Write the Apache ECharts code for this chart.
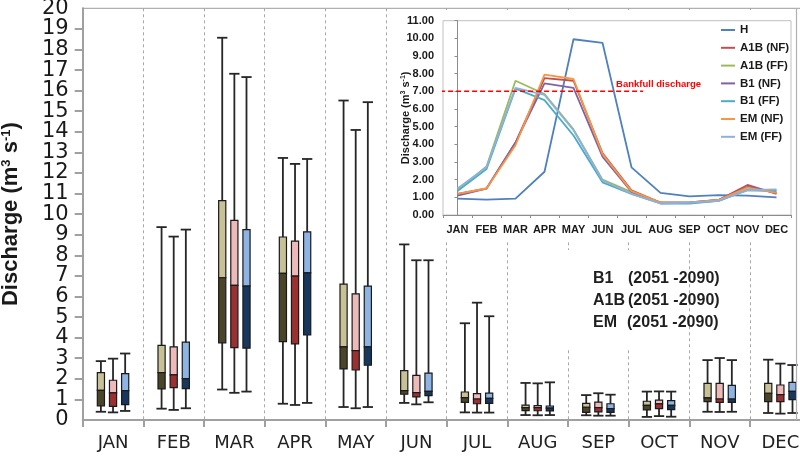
<!DOCTYPE html>
<html>
<head>
<meta charset="utf-8">
<script src="https://cdn.jsdelivr.net/npm/echarts@6/dist/echarts.min.js"></script>
<style>html,body{margin:0;padding:0;background:#fff;}#c{width:800px;height:457px;}</style>
</head>
<body>
<div id="c"></div>
<script>
// ---------- DATA ----------
const months = ['JAN','FEB','MAR','APR','MAY','JUN','JUL','AUG','SEP','OCT','NOV','DEC'];
const yTicks = [0,20,1]; // min, max, interval (main axis)

// box stats per month: [min, q1, median, q3, max]
const b1Stats = [
  [0.40,0.69,1.44,2.30,2.86],[0.55,1.51,2.30,3.63,9.37],[1.48,3.75,6.91,10.66,18.57],
  [0.79,3.81,7.12,8.89,12.73],[0.63,2.48,3.55,6.60,15.52],[0.83,1.25,1.43,2.40,8.53],
  [0.37,0.86,1.09,1.36,4.70],[0.24,0.46,0.60,0.72,1.80],[0.23,0.37,0.62,0.81,1.21],
  [0.15,0.49,0.71,0.91,1.38],[0.40,0.89,1.07,1.78,2.91],[0.34,0.89,1.30,1.78,2.93]
];
const a1bStats = [
  [0.37,0.66,1.32,1.93,2.98],[0.49,1.57,2.19,3.55,8.91],[1.32,3.52,6.54,9.70,16.82],
  [0.73,3.70,6.99,8.69,12.44],[0.57,2.43,3.37,6.13,14.09],[0.76,1.12,1.33,2.17,7.76],
  [0.36,0.79,1.02,1.28,5.70],[0.23,0.45,0.60,0.70,1.78],[0.21,0.39,0.60,0.87,1.30],
  [0.19,0.55,0.78,0.97,1.39],[0.39,0.86,1.02,1.78,3.01],[0.31,0.89,1.23,1.70,2.74]
];
const emStats = [
  [0.44,0.75,1.43,2.25,3.23],[0.57,1.52,2.01,3.78,9.25],[1.38,3.49,6.50,9.25,16.66],
  [0.83,4.13,7.15,9.14,12.68],[0.63,2.66,3.55,6.50,15.44],[0.86,1.18,1.39,2.28,7.76],
  [0.36,0.81,1.05,1.31,5.04],[0.24,0.44,0.58,0.68,1.83],[0.21,0.37,0.55,0.79,1.23],
  [0.16,0.50,0.71,0.94,1.38],[0.40,0.86,1.02,1.68,2.91],[0.34,0.99,1.39,1.83,2.67]
];

// inset mean monthly discharge
const insetNames = ['H','A1B (NF)','A1B (FF)','B1 (NF)','B1 (FF)','EM (NF)','EM (FF)'];
const H      = [0.93,0.87,0.93,2.45,9.95,9.75,2.70,1.25,1.05,1.12,1.10,1.00];
const A1B_NF = [1.20,1.50,4.10,7.75,7.60,3.50,1.40,0.70,0.70,0.85,1.70,1.20];
const A1B_FF = [1.40,2.75,7.60,6.85,4.85,2.00,1.30,0.70,0.70,0.80,1.45,1.40];
const B1_NF  = [1.10,1.50,4.10,7.45,7.20,3.30,1.30,0.70,0.72,0.85,1.60,1.25];
const B1_FF  = [1.35,2.60,7.15,6.50,4.50,1.85,1.20,0.65,0.65,0.80,1.40,1.35];
const EM_NF  = [1.20,1.50,3.95,7.95,7.70,3.45,1.35,0.70,0.72,0.85,1.55,1.25];
const EM_FF  = [1.50,2.70,7.20,6.80,4.80,1.95,1.20,0.65,0.70,0.80,1.40,1.45];
const bankfull = 7;
const bankfullSpan = [-0.6, 6.4]; // category-index extent of the bankfull line
const periodLabels = ['B1','A1B','EM'];
const periodText = '(2051 -2090)';

// ---------- CHART ----------
const chart = echarts.init(document.getElementById('c'), null, {renderer:'canvas'});
const insetSeriesData = [H, A1B_NF, A1B_FF, B1_NF, B1_FF, EM_NF, EM_FF];
const insetColors = ['#4F81BD','#C0504D','#9BBB59','#8064A2','#4BACC6','#F79646','#8EB0DC'];

function boxRender(offsetFrac, upper, lower) {
  return function(params, api) {
    const i = api.value(0);
    const bw = api.size([1, 0])[0];
    const cx = api.coord([i, 0])[0] + offsetFrac * bw;
    const y = k => api.coord([i, api.value(k)])[1];
    const yMin = y(1), yQ1 = y(2), yMed = y(3), yQ3 = y(4), yMax = y(5);
    const w = bw * 0.118, cw = bw * 0.17;
    const ws = {stroke:'#262626', lineWidth:1.8};
    return {type:'group', children:[
      {type:'line', shape:{x1:cx, y1:yMax, x2:cx, y2:yMin}, style:ws},
      {type:'line', shape:{x1:cx-cw/2, y1:yMax, x2:cx+cw/2, y2:yMax}, style:ws},
      {type:'line', shape:{x1:cx-cw/2, y1:yMin, x2:cx+cw/2, y2:yMin}, style:ws},
      {type:'rect', shape:{x:cx-w/2, y:yQ3, width:w, height:yMed-yQ3}, style:{fill:upper, stroke:'#1a1a1a', lineWidth:1.2}},
      {type:'rect', shape:{x:cx-w/2, y:yMed, width:w, height:yQ1-yMed}, style:{fill:lower, stroke:'#1a1a1a', lineWidth:1.2}}
    ]};
  };
}
function boxSeries(stats, offsetFrac, upper, lower, name) {
  return {
    type:'custom', name:name, xAxisIndex:0, yAxisIndex:0, z:2, clip:false,
    renderItem: boxRender(offsetFrac, upper, lower),
    encode:{x:0, y:[1,2,3,4,5]},
    data: stats.map((s, i) => [i].concat(s))
  };
}

const supRich = (fs, sfs) => ({
  t:{fontSize:fs, fontWeight:'bold', fontFamily:'Liberation Sans', color:'#1a1a1a'},
  s:{fontSize:sfs, fontWeight:'bold', fontFamily:'Liberation Sans', color:'#1a1a1a', verticalAlign:'top'}
});
const dischargeName = '{t|Discharge (m}{s|3}{t| s}{s|-1}{t|)}';
const mainLabelRich = {n:{fontSize:21, lineHeight:12, height:12, fontFamily:'DejaVu Sans', color:'#1a1a1a'}};

const series = [
  boxSeries(b1Stats, -0.2, '#C9C196', '#4A4528', 'B1'),
  boxSeries(a1bStats, 0, '#EDB9B9', '#9C3030', 'A1B'),
  boxSeries(emStats, 0.2, '#8DB4E3', '#17375E', 'EM')
];
insetNames.forEach((n, k) => {
  series.push({
    type:'line', name:n, xAxisIndex:1, yAxisIndex:1, z:12,
    data: insetSeriesData[k], symbol:'none', smooth:false,
    lineStyle:{color:insetColors[k], width:1.8}, itemStyle:{color:insetColors[k]}
  });
});
series.push({
  type:'line', name:'Bankfull', xAxisIndex:2, yAxisIndex:1, z:12, symbol:'none',
  data: [[bankfullSpan[0], bankfull], [bankfullSpan[1], bankfull]],
  lineStyle:{color:'#FF0000', width:1.5, type:[5,3]},
  endLabel:{show:true, formatter:'Bankfull discharge', color:'#FF0000',
    fontWeight:'bold', fontSize:9.5, fontFamily:'Liberation Sans', offset:[-35,-7]},
  silent:true
});

const gfx = [
  {type:'rect', z:8, shape:{x:397, y:10, width:400, height:232}, style:{fill:'#fff'}},
  {type:'rect', z:8, shape:{x:522, y:250, width:160, height:98}, style:{fill:'#fff'}},
  {type:'line', z:20, shape:{x1:796.5, y1:8.5, x2:796.5, y2:420}, style:{stroke:'#b0b0b0', lineWidth:1.2}}
];
periodLabels.forEach((p, k) => {
  gfx.push({type:'text', z:9, x:593, y:279 + k*22, style:{text:p, font:'bold 16px "Liberation Sans"', fill:'#1f1f1f', textVerticalAlign:'middle'}});
  gfx.push({type:'text', z:9, x:628 - (k===2?1:0), y:279 + k*22, style:{text:periodText, font:'bold 16px "Liberation Sans"', fill:'#1f1f1f', textVerticalAlign:'middle'}});
});

const option = {
  animation:false,
  backgroundColor:'#fff',
  grid:[
    {left:82.7, top:8.3, right:-10.7, bottom:37, show:true, borderColor:'#b0b0b0', borderWidth:1.2, z:0, containLabel:false, outerBoundsMode:'none'},
    {left:443, top:20.7, right:9, bottom:242, show:true, borderColor:'#c0c0c0', borderWidth:1, z:10, containLabel:false, outerBoundsMode:'none'}
  ],
  legend:{
    data:insetNames, orient:'vertical', left:716, top:18, z:14,
    icon:'rect', itemWidth:14, itemHeight:2, itemGap:3.8,
    textStyle:{fontSize:11.5, fontWeight:'bold', fontFamily:'Liberation Sans', color:'#1a1a1a', lineHeight:14}
  },
  xAxis:[
    {type:'category', gridIndex:0, data:months, boundaryGap:true, z:1,
     axisLine:{lineStyle:{color:'#a0a0a0', width:2}},
     axisTick:{show:true, length:7, interval:0, lineStyle:{color:'#a0a0a0', width:2}},
     axisLabel:{interval:0, margin:14, fontSize:18, fontFamily:'DejaVu Sans', color:'#222'},
     splitLine:{show:true, interval:0, lineStyle:{color:'#a8a8a8', width:1, type:[3,3]}}},
    {type:'category', gridIndex:1, data:months, boundaryGap:true, z:11,
     axisLine:{lineStyle:{color:'#8c8c8c', width:1}},
     axisTick:{show:true, length:3, interval:0, lineStyle:{color:'#8c8c8c'}},
     axisLabel:{interval:0, margin:9, fontSize:11, fontWeight:'bold', fontFamily:'Liberation Sans', color:'#1a1a1a'},
     splitLine:{show:false}},
    {type:'value', gridIndex:1, min:-0.5, max:11.5, show:false}
  ],
  yAxis:[
    {type:'value', gridIndex:0, position:'left', min:yTicks[0], max:yTicks[1], interval:yTicks[2], z:1,
     axisLine:{show:true, lineStyle:{color:'#a0a0a0', width:2}},
     axisTick:{show:true, length:8, lineStyle:{color:'#a0a0a0', width:2}},
     axisLabel:{margin:14, showMinLabel:false, showMaxLabel:false, hideOverlap:false,
       formatter: v => '{n|' + v + '}', rich:mainLabelRich},
     splitLine:{show:false},
     name:dischargeName, nameLocation:'middle', nameRotate:90, nameGap:61, nameMoveOverlap:false,
     nameTextStyle:{rich:supRich(22, 13)}},
    {type:'value', gridIndex:1, min:0, max:11, interval:1, z:11,
     axisLine:{show:true, lineStyle:{color:'#8c8c8c', width:1}},
     axisTick:{show:true, length:3, lineStyle:{color:'#8c8c8c'}},
     axisLabel:{margin:9, showMinLabel:true, showMaxLabel:true, hideOverlap:false,
       formatter: v => '{n|' + v.toFixed(2) + '}',
       rich:{n:{fontSize:11, lineHeight:10, height:10, fontWeight:'bold', fontFamily:'Liberation Sans', color:'#1a1a1a'}}},
     splitLine:{show:false},
     name:dischargeName, nameLocation:'middle', nameRotate:90, nameGap:32, nameMoveOverlap:false,
     nameTextStyle:{rich:supRich(11, 7)}},
    // end labels (first / last tick) of the main axis
    {type:'value', gridIndex:0, position:'left', offset:0, min:yTicks[0], max:yTicks[1], interval:yTicks[2], z:1,
     axisLine:{show:false}, axisTick:{show:false}, splitLine:{show:false},
     axisLabel:{margin:14, showMinLabel:true, showMaxLabel:true, hideOverlap:false,
       formatter: v => (v === yTicks[0] || v === yTicks[1]) ? '{n|' + v + '}' : '', rich:mainLabelRich}}
  ],
  graphic: gfx,
  series: series
};
chart.setOption(option);
</script>
</body>
</html>
